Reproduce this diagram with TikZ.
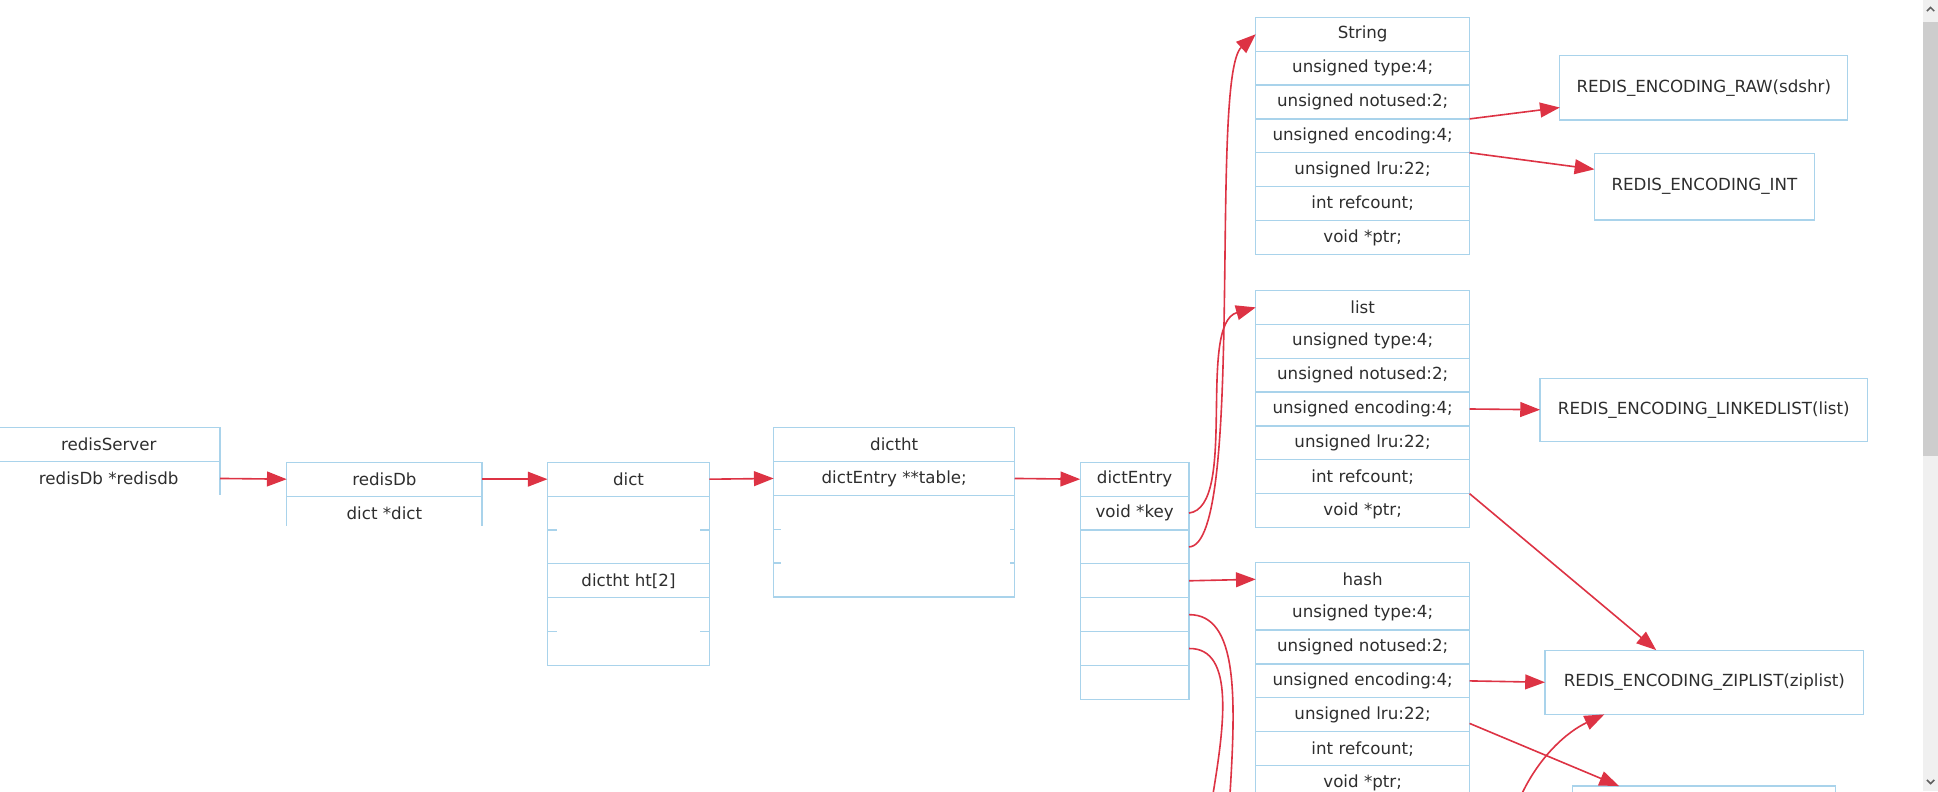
\documentclass[tikz,border=0pt]{standalone}
\usepackage{fontspec}
\setmainfont{DejaVu Sans}
\usetikzlibrary{arrows.meta,calc}
\definecolor{bx}{HTML}{A9D3EB}
\definecolor{ar}{HTML}{DD3344}
\definecolor{tx}{HTML}{2E2E2E}
\definecolor{sbtrack}{HTML}{F0F0F0}
\definecolor{sbthumb}{HTML}{CDCDCD}
\definecolor{sbarrow}{HTML}{606060}
\newcommand\mkcol[5]{%
  \foreach \t [count=\i from 0] in {#5} {%
    \node[cell, minimum width=#4] (#1\i) at (#2,{#3+\i*27.4}) {\t};}}
\begin{document}
\begin{tikzpicture}[x=1pt,y=-1pt,
  cell/.style={draw=bx, line width=1pt, rectangle, inner sep=0pt, outer sep=0pt,
    text=tx, font=\fontsize{13.5}{16}\selectfont, anchor=north west, minimum height=27.4pt},
  cellnd/.style={cell, draw=none},
  bxline/.style={draw=bx, line width=1pt},
  arr/.style={draw=ar, line width=1.3pt, -{Triangle[length=16pt,width=12pt]}},
  wire/.style={draw=ar, line width=1.3pt},
  enc/.style={cell, minimum height=52pt}]
\useasboundingbox (0,0) rectangle (1568,640);
\begin{scope}
\clip (0,0) rectangle (1556,640);
% redisServer
\node[cell, minimum width=180] (rs0) at (-2,346) {redisServer};
\node[cellnd, minimum width=180] (rs1) at (-2,373.4) {redisDb *redisdb};
\draw[bxline] (rs1.north east) -- (rs1.south east);
% redisDb
\node[cell, minimum width=158] (rd0) at (232,374) {redisDb};
\node[cellnd, minimum width=158] (rd1) at (232,401.4) {dict *dict};
\draw[bxline] (rd1.north west) -- ++(0,24);
\draw[bxline] (rd1.north east) -- ++(0,24);
% dict
\node[cell, minimum width=131] (d0) at (443,374) {dict};
\node[cell, minimum width=131, minimum height=54.8pt] (d1) at (443,401.4) {};
\node[cell, minimum width=131] (d2) at (443,456.2) {dictht ht[2]};
\node[cell, minimum width=131, minimum height=54.8pt] (d3) at (443,483.6) {};
\foreach \n in {d1,d3} {
  \draw[bxline] (\n.west) -- ++(8,0);
  \draw[bxline] (\n.east) -- ++(-8,0);}
% dictht
\node[cell, minimum width=195] (t0) at (626,346) {dictht};
\node[cell, minimum width=195] (t1) at (626,373.4) {dictEntry **table;};
\node[cell, minimum width=195, minimum height=82.2pt] (t2) at (626,400.8) {};
\foreach \k in {27.4,54.8} {
  \draw[bxline] ($(t2.north west)+(0,\k)$) -- ++(6,0);
  \draw[bxline] ($(t2.north east)+(0,\k)$) -- ++(-4,0);}
% dictEntry
\mkcol{e}{874}{374}{88}{dictEntry,void *key,{},{},{},{},{}}
% String / list / hash
\mkcol{s}{1016}{14}{173}{String,unsigned type:4;,unsigned notused:2;,unsigned encoding:4;,unsigned lru:22;,int refcount;,void *ptr;}
\mkcol{l}{1016}{235}{173}{list,unsigned type:4;,unsigned notused:2;,unsigned encoding:4;,unsigned lru:22;,int refcount;,void *ptr;}
\mkcol{h}{1016}{455}{173}{hash,unsigned type:4;,unsigned notused:2;,unsigned encoding:4;,unsigned lru:22;,int refcount;,void *ptr;}
% encodings
\node[enc, minimum width=233] (raw) at (1262,45) {REDIS\_ENCODING\_RAW(sdshr)};
\node[enc, minimum width=178, minimum height=54pt] (int) at (1290,124) {REDIS\_ENCODING\_INT};
\node[enc, minimum width=265, minimum height=51pt] (lnk) at (1246,306) {REDIS\_ENCODING\_LINKEDLIST(list)};
\node[enc, minimum width=258] (zip) at (1250,526) {REDIS\_ENCODING\_ZIPLIST(ziplist)};
\node[enc, minimum width=213] (bot) at (1272,636) {};
% connectors
\draw[arr] (rs1.east) -- (rd0.west);
\draw[arr] (rd0.east) -- (d0.west);
\draw[arr] (d0.east) -- (t1.west);
\draw[arr] (t1.east) -- (e0.west);
\draw[arr] (e1.east) .. controls (1002,410) and (968,262) .. (l0.west);
\draw[arr] (e2.east) .. controls (1008,441) and (978,62) .. (s0.west);
\draw[arr] (e3.east) -- (h0.west);
\coordinate (c1) at (995,645);
\coordinate (c2) at (981,645);
\coordinate (c3) at (1230,645);
\draw[wire] (e4.east) .. controls (1002,497) and (1000,565) .. (c1);
\draw[wire] (e5.east) .. controls (1000,524) and (990,590) .. (c2);
\draw[arr] (s2.south east) -- ($(raw.south west)+(0,-10)$);
\draw[arr] (s3.south east) -- ($(int.north west)+(0,13)$);
\draw[arr] (l3.east) -- (lnk.west);
\draw[arr] (l6.north east) -- ($(zip.north west)+(90,0)$);
\draw[arr] (h3.east) -- (zip.west);
\draw[arr] ($(h4.east)+(0,7)$) -- ($(bot.north west)+(38,0)$);
\draw[arr] (c3) .. controls (1245,612) and (1268,592) .. ($(zip.south west)+(48,0)$);
\end{scope}
% scrollbar
\fill[sbtrack] (1556,0) rectangle (1568,640);
\fill[sbthumb] (1556,18) rectangle (1568,369);
\draw[sbarrow, line width=1.2pt] (1559,9) -- (1562,6) -- (1565,9);
\draw[sbarrow, line width=1.2pt] (1559,631) -- (1562,634) -- (1565,631);
\end{tikzpicture}
\end{document}
